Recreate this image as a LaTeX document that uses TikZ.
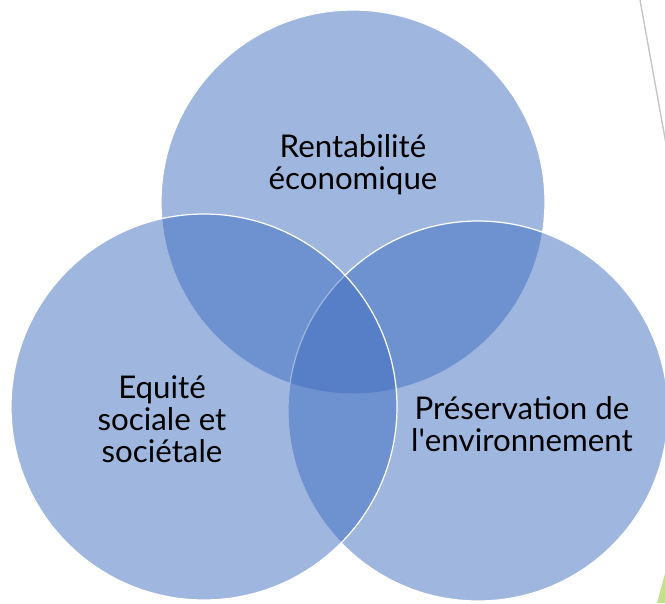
\documentclass[tikz,border=0pt]{standalone}
\usepackage{fontspec}
\setmainfont{Lato}
\usepackage{tikz}
\definecolor{vennblue}{RGB}{63,109,191}
\definecolor{slidegreen}{RGB}{197,224,140}
\def\ecocircle{(353,-202) circle (192)}
\def\envcircle{(478,-411) circle (190)}
\def\soccircle{(204,-407) circle (193)}
\tikzset{
  venn/.style={fill=vennblue,fill opacity=.5,draw=white,line width=0.7pt},
  vennlabel/.style={align=center,text=black,font=\fontsize{17.8}{18.2}\selectfont}
}

\begin{document}
\begin{tikzpicture}[x=0.02cm,y=0.02cm]
			\useasboundingbox (0,0) rectangle (665,-603);
			\draw[gray!45,line width=0.8pt] (640,0) -- (668,-155);
			\fill[slidegreen] (657,-603) -- (666,-570) -- (666,-603) -- cycle;
			\path[venn] \ecocircle;
			\path[venn] \envcircle;
			\path[venn] \soccircle;
			\node[vennlabel] (eco) at (353,-165) {Rentabilité\\économique};
			\node[vennlabel] (soc) at (162,-419) {Equité\\sociale et\\sociétale};
			\node[vennlabel] (env) at (522,-424) {Préservation de\\l\textquotesingle environnement};
		\end{tikzpicture}
\end{document}
